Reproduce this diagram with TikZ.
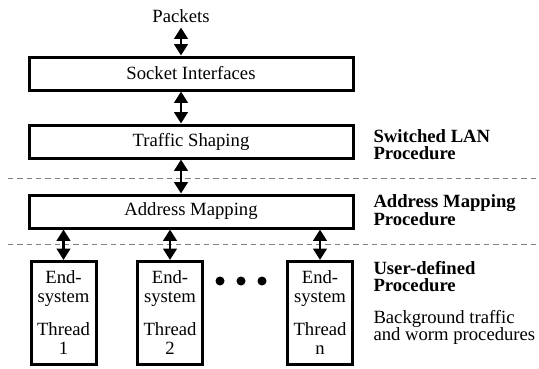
\documentclass[tikz,border=0pt]{standalone}
\usepackage{fontspec}
\setmainfont{Liberation Serif}
\usetikzlibrary{arrows.meta}

\tikzset{every picture/.style={line width=0.75pt}}
\tikzset{
  layerbox/.style={draw, line width=2.25pt, minimum width=243pt, minimum height=24.75pt, inner sep=0pt},
  threadbox/.style={draw, line width=2.25pt, minimum width=48.75pt, minimum height=77.25pt, inner sep=0pt, align=center, anchor=north},
  dblarrow/.style={line width=2.2pt, {Triangle[width=10pt,length=8.5pt]}-{Triangle[width=10pt,length=8.5pt]}},
  sepline/.style={gray, line width=0.6pt, dash pattern=on 4pt off 3pt},
  sidelabel/.style={anchor=north west, align=left, inner sep=0pt, font=\fontsize{14}{12.75}\selectfont}
}

\begin{document}
\begin{tikzpicture}[x=0.75pt,y=0.75pt,yscale=-1,xscale=1,font=\fontsize{14}{14.25}\selectfont]
\useasboundingbox (0,0) rectangle (539,368);

%Packets and layers
\node (packets) at (181,16) {Packets};
\node [layerbox] (socket) at (191,73.5) {Socket Interfaces};
\node [layerbox] (traffic) at (191,141.5) {Traffic Shaping};
\node [layerbox] (addrmap) at (191,211.5) {Address Mapping};

%Separators
\draw [sepline] (8,178) -- (539,178);
\draw [sepline] (8,244) -- (539,244);

%Threads
\node [threadbox] (es1) at (63.5,260) {End-\\system\\[10.5pt]Thread\\1};
\node [threadbox] (es2) at (170,260) {End-\\system\\[10.5pt]Thread\\2};
\node [threadbox] (esn) at (320,260) {End-\\system\\[10.5pt]Thread\\n};
\foreach \cx in {220,241,262}
  \fill (\cx,281) circle (4.5);

%Arrows
\draw [dblarrow] (packets.south) -- (packets.south |- socket.north);
\draw [dblarrow] (socket.south -| packets) -- (traffic.north -| packets);
\draw [dblarrow] (traffic.south -| packets) -- (addrmap.north -| packets);
\draw [dblarrow] (addrmap.south -| es1) -- (es1.north);
\draw [dblarrow] (addrmap.south -| es2) -- (es2.north);
\draw [dblarrow] (addrmap.south -| esn) -- (esn.north);

%Labels
\node [sidelabel] (lan) at (373,129) {\textbf{Switched LAN}\\\textbf{Procedure}};
\node [sidelabel] (amp) at (373,194) {\textbf{Address Mapping}\\\textbf{Procedure}};
\node [sidelabel] (udp) at (373,261) {\textbf{User-defined}\\\textbf{Procedure}};
\node [sidelabel] (bgw) at (373,310) {Background traffic\\and worm procedures};

\end{tikzpicture}
\end{document}
